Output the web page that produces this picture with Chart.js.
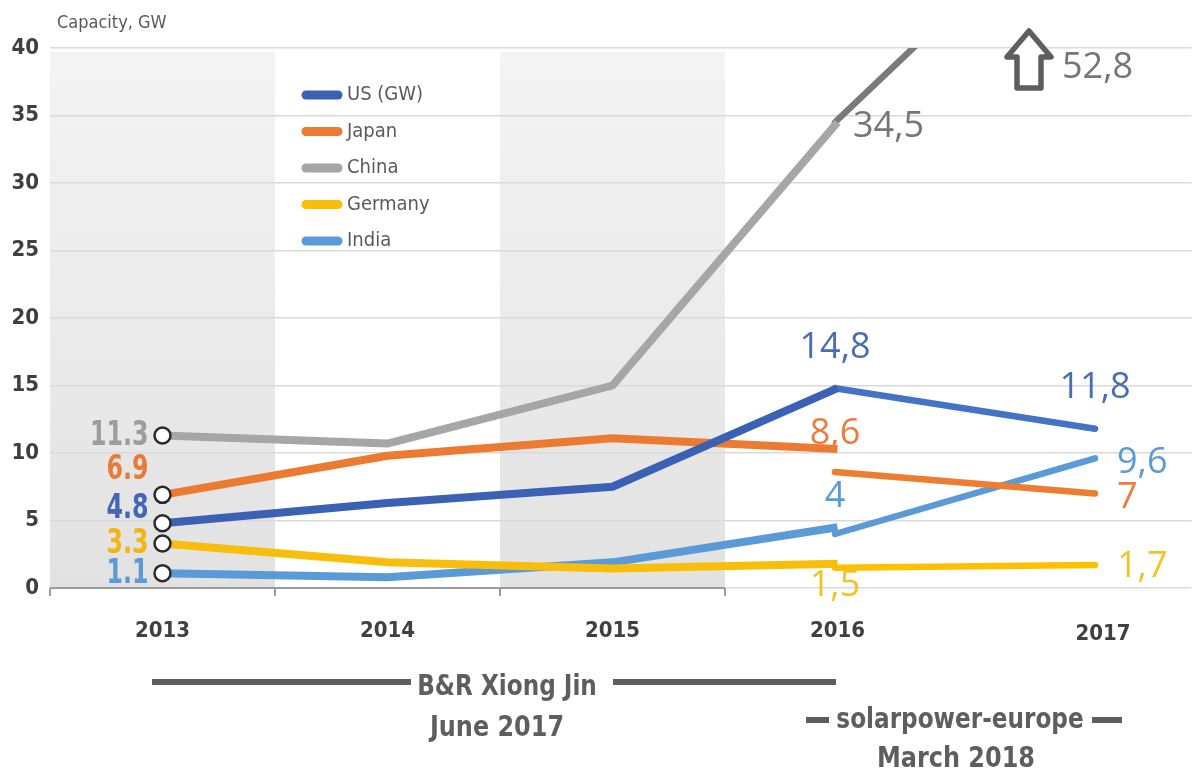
<!DOCTYPE html>
<html><head><meta charset="utf-8">
<script src="https://cdn.jsdelivr.net/npm/chart.js@4"></script>
<style>html,body{margin:0;padding:0;background:#fff;}canvas{display:block}</style>
</head><body><canvas id="c" width="1202" height="776"></canvas>
<script>
// ---- data ----
const years1 = [2013, 2014, 2015, 2016];           // B&R Xiong Jin, June 2017
const years2 = [2016, 2017];                       // solarpower-europe, March 2018
const seriesNames = ['US (GW)', 'Japan', 'China', 'Germany', 'India'];
const us1 = [4.8, 6.3, 7.5, 14.8];
const japan1 = [6.9, 9.8, 11.1, 10.3];
const china1 = [11.3, 10.7, 15.0, 34.5];
const germany1 = [3.3, 1.9, 1.45, 1.8];
const india1 = [1.1, 0.8, 1.9, 4.5];
const us2 = [14.8, 11.8];
const japan2 = [8.6, 7.0];
const china2 = [34.5, 52.8];
const germany2 = [1.5, 1.7];
const india2 = [4.0, 9.6];
const yTicks = [0, 5, 10, 15, 20, 25, 30, 35, 40];
const labels2013 = ['4.8', '6.9', '11.3', '3.3', '1.1'];
const labels2016 = ['14,8', '8,6', '34,5', '1,5', '4'];
const labels2017 = ['11,8', '7', '52,8', '1,7', '9,6'];
const axisTitle = 'Capacity, GW';
const source1 = ['B&R Xiong Jin', 'June 2017'];
const source2 = ['solarpower-europe', 'March 2018'];

// ---- styles ----
const C1 = ['#3b61b5', '#ec7a32', '#a6a6a6', '#f9bd0b', '#5a9ad6'];
const C2 = ['#4472c4', '#ed7d31', '#7a7a7a', '#ffc000', '#5b9bd5'];
const LBL1 = ['#4565b5', '#e97b3a', '#9c9c9c', '#f2b514', '#5a9ad6'];
const LBL2 = ['#4a6cb3', '#ea7d3c', '#767676', '#f5c225', '#5b9bd5'];
const COND = '"DejaVu Sans Condensed","Liberation Sans",sans-serif';
const SANS = '"Open Sans","Liberation Sans",sans-serif';

const first = [us1, japan1, china1, germany1, india1];
const second = [us2, japan2, china2, germany2, india2];
const datasets = [];
first.forEach((vals, i) => datasets.push({
  label: seriesNames[i],
  data: vals.map((v, k) => ({x: years1[k], y: v})),
  xAxisID: 'x', borderColor: C1[i], borderWidth: 8,
  borderJoinStyle: 'round', borderCapStyle: 'butt', tension: 0,
  pointRadius: vals.map((v, k) => k === 0 ? 8 : 0),
  pointBackgroundColor: '#ffffff', pointBorderColor: '#2a2a2a', pointBorderWidth: 2.5
}));
second.forEach((vals, i) => datasets.push({
  label: seriesNames[i] + ' (2)',
  data: vals.map((v, k) => ({x: years2[k], y: v})),
  xAxisID: 'x2', borderColor: C2[i], borderWidth: 6.5,
  borderJoinStyle: 'round', borderCapStyle: 'round', tension: 0, pointRadius: 0
}));

// pixel spacing per year for each source (the reference uses different spacing)
const STEP1 = 225, STEP2 = 260, X2016 = 835;
function ranges(left, w) {
  const x1Min = 2012.5 - (left - 50) / STEP1;
  const x2Min = 2016 - (X2016 - left) / STEP2;
  return {x1Min, x1Max: x1Min + w / STEP1, x2Min, x2Max: x2Min + w / STEP2};
}
const R0 = ranges(50, 1152);

function sText(ctx, t, x, y, align, sx) {
  ctx.save();
  ctx.translate(x, y);
  ctx.scale(sx, 1);
  ctx.textAlign = align;
  ctx.fillText(t, 0, 0);
  ctx.restore();
}

const decor = {
  id: 'decor',
  beforeDraw(chart) {
    const {ctx, chartArea: a, scales: {x}} = chart;
    ctx.save();
    ctx.fillStyle = '#fff';
    ctx.fillRect(0, 0, chart.width, chart.height);
    const g = ctx.createLinearGradient(0, a.top, 0, a.bottom);
    g.addColorStop(0, '#f4f4f4');
    g.addColorStop(1, '#e2e2e2');
    ctx.fillStyle = g;
    [[2012.5, 2013.5], [2014.5, 2015.5]].forEach(([s, e]) => {
      const l = x.getPixelForValue(s), r = x.getPixelForValue(e);
      ctx.fillRect(l, a.top + 4, r - l, a.bottom - a.top - 4);
    });
    ctx.restore();
  },
  beforeDatasetsDraw(chart) {
    const {ctx, scales: {x, y}} = chart;
    ctx.save();
    const y0 = y.getPixelForValue(0);
    ctx.strokeStyle = '#9b9b9b';
    ctx.lineWidth = 2;
    const xs = [2012.5, 2013.5, 2014.5, 2015.5].map(v => x.getPixelForValue(v));
    ctx.beginPath();
    ctx.moveTo(xs[0], y0); ctx.lineTo(xs[3], y0);
    xs.forEach(px => { ctx.moveTo(px, y0); ctx.lineTo(px, y0 + 8); });
    ctx.stroke();
    ctx.restore();
  },
  afterDraw(chart) {
    const {ctx, chartArea: a, scales: {x2}} = chart;
    ctx.save();
    ctx.textBaseline = 'middle';
    // axis title
    ctx.fillStyle = '#595959';
    ctx.font = '18px ' + COND;
    sText(ctx, axisTitle, 57, 23, 'left', 1);

    // legend
    const lx = 302, ly0 = 95, step = 36.5;
    seriesNames.forEach((n, i) => {
      const yy = ly0 + i * step;
      ctx.strokeStyle = C1[i]; ctx.lineWidth = 9; ctx.lineCap = 'round';
      ctx.beginPath(); ctx.moveTo(lx + 4, yy); ctx.lineTo(lx + 36, yy); ctx.stroke();
      ctx.fillStyle = '#5a5a5a';
      ctx.font = '20px ' + COND;
      sText(ctx, n, lx + 45, yy, 'left', 1);
    });

    // 2013 labels (source 1)
    const off13 = [-15, -25, 0, 0, 0];
    ctx.font = 'bold 33px ' + COND;
    labels2013.forEach((t, i) => {
      const el = chart.getDatasetMeta(i).data[0];
      ctx.fillStyle = LBL1[i];
      sText(ctx, t, el.x - 14, el.y + off13[i] + 1, 'right', 0.8);
    });

    // 2016 labels (source 2)
    ctx.font = '36px ' + SANS;
    const pos16 = [['center', 0, -40], ['center', 0, -38], ['left', 18, 4], ['center', 0, 18], ['center', 0, -37]];
    labels2016.forEach((t, i) => {
      const el = chart.getDatasetMeta(5 + i).data[0];
      const [al, dx, dy] = pos16[i];
      ctx.fillStyle = LBL2[i];
      sText(ctx, t, el.x + dx, el.y + dy, al, 1);
    });
    // 2017 labels (source 2)
    const pos17 = [['center', 0, -41], ['left', 22, 4], null, ['left', 22, 2], ['left', 22, 4]];
    labels2017.forEach((t, i) => {
      const el = chart.getDatasetMeta(5 + i).data[1];
      ctx.fillStyle = LBL2[i];
      if (pos17[i]) {
        const [al, dx, dy] = pos17[i];
        sText(ctx, t, el.x + dx, el.y + dy, al, 1);
      } else {
        // off-scale value: arrow + label at top
        const ax = el.x - 66, top = a.top - 17;
        ctx.beginPath();
        ctx.moveTo(ax, top);
        ctx.lineTo(ax + 22, top + 26);
        ctx.lineTo(ax + 12, top + 26);
        ctx.lineTo(ax + 12, top + 57);
        ctx.lineTo(ax - 12, top + 57);
        ctx.lineTo(ax - 12, top + 26);
        ctx.lineTo(ax - 22, top + 26);
        ctx.closePath();
        ctx.fillStyle = '#fff'; ctx.fill();
        ctx.strokeStyle = '#5e5e5e'; ctx.lineWidth = 5.5; ctx.lineJoin = 'round'; ctx.stroke();
        ctx.fillStyle = LBL2[i];
        sText(ctx, t, el.x - 33, a.top + 20, 'left', 1);
      }
    });

    // 2017 category label
    ctx.fillStyle = '#404040';
    ctx.font = 'bold 22px ' + COND;
    sText(ctx, String(years2[1]), x2.getPixelForValue(years2[1]) + 8, 634, 'center', 1);

    // source annotations
    ctx.strokeStyle = '#5e5e5e'; ctx.lineWidth = 6; ctx.lineCap = 'butt';
    ctx.beginPath();
    ctx.moveTo(152, 682); ctx.lineTo(411, 682);
    ctx.moveTo(613, 682); ctx.lineTo(836, 682);
    ctx.moveTo(806, 720); ctx.lineTo(829, 720);
    ctx.moveTo(1092, 720); ctx.lineTo(1122, 720);
    ctx.stroke();
    ctx.fillStyle = '#5e5e5e';
    ctx.font = 'bold 28px ' + COND;
    sText(ctx, source1[0], 507, 688, 'center', 0.92);
    sText(ctx, source1[1], 497, 729, 'center', 0.95);
    sText(ctx, source2[0], 960, 721, 'center', 0.92);
    sText(ctx, source2[1], 956, 760, 'center', 0.95);
    ctx.restore();
  }
};

const chart = new Chart(document.getElementById('c'), {
  type: 'line',
  data: {datasets},
  options: {
    responsive: false, animation: false,
    layout: {padding: {top: 48, left: 0, right: -10, bottom: 0}},
    plugins: {legend: {display: false}, tooltip: {enabled: false}},
    scales: {
      x: {
        type: 'linear', min: R0.x1Min, max: R0.x1Max,
        afterBuildTicks: s => { s.ticks = years1.map(v => ({value: v})); },
        afterFit: s => { s.height = 188; s.paddingLeft = 0; s.paddingRight = 0; },
        grid: {display: false, drawTicks: false},
        border: {display: false},
        ticks: {padding: 30, color: '#404040', autoSkip: false, maxRotation: 0,
          font: {family: COND, size: 22, weight: 'bold'}, callback: v => String(v)}
      },
      x2: {type: 'linear', display: false, min: R0.x2Min, max: R0.x2Max},
      y: {
        min: 0, max: 40,
        afterBuildTicks: s => { s.ticks = yTicks.map(v => ({value: v})); },
        afterFit: s => { s.width = 50; },
        grid: {color: '#dadada', lineWidth: 1.5, drawTicks: false},
        border: {display: false},
        ticks: {padding: 11, color: '#3f3f3f', font: {family: COND, size: 22, weight: 'bold'}}
      }
    }
  },
  plugins: [decor]
});
// align the two x scales to the real plot width once the layout is known
const ca = chart.chartArea;
const R = ranges(ca.left, ca.right - ca.left);
chart.options.scales.x.min = R.x1Min; chart.options.scales.x.max = R.x1Max;
chart.options.scales.x2.min = R.x2Min; chart.options.scales.x2.max = R.x2Max;
chart.update('none');
</script>
</body></html>
